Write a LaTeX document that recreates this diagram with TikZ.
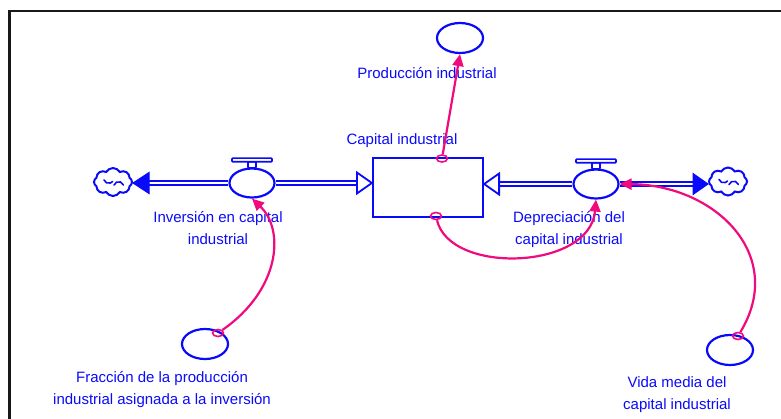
\documentclass[tikz,border=0pt]{standalone}
\usepackage{fontspec}
\setmainfont{Liberation Sans}
\usetikzlibrary{shapes.geometric,shapes.symbols,arrows.meta,calc}
\definecolor{flowblue}{RGB}{10,10,250}
\definecolor{linkpink}{RGB}{240,10,125}
\definecolor{framegray}{RGB}{25,25,25}
\tikzset{
  flowline/.style={draw=flowblue, line width=1.5pt, double=white, double distance=2.2pt},
  valvebody/.style={ellipse, draw=flowblue, line width=2.2pt, fill=white, minimum width=45pt, minimum height=29pt, inner sep=0pt},
  valvetop/.style={draw=flowblue, line width=1.6pt, fill=white, rounded corners=0.8pt},
  auxvar/.style={ellipse, draw=flowblue, line width=2.2pt, minimum width=46pt, minimum height=30pt, inner sep=0pt},
  stockbox/.style={rectangle, draw=flowblue, line width=2.2pt, minimum width=110pt, minimum height=59pt, inner sep=0pt},
  sinkcloud/.style={cloud, cloud puffs=8, cloud puff arc=120, aspect=1.4, draw=flowblue, line width=2pt, minimum width=38pt, minimum height=28pt, inner sep=0pt},
  curl/.style={draw=flowblue, line width=1.6pt, line cap=round},
  solidtip/.style={draw=flowblue, fill=flowblue, line width=1pt, line join=miter},
  hollowtip/.style={draw=flowblue, fill=white, line width=1.8pt, line join=miter},
  lbl/.style={text=flowblue, font=\fontsize{15}{22}\selectfont, align=center, inner sep=0pt},
  link/.style={draw=linkpink, line width=2.2pt, -{Triangle[length=12pt,width=11pt]}},
  linkstart/.style={ellipse, draw=linkpink, line width=1.6pt, minimum width=11pt, minimum height=7pt, inner sep=0pt},
}
\begin{document}
\begin{tikzpicture}[x=1pt,y=-1pt]
\useasboundingbox (0,0) rectangle (781,418);
\clip (0,0) rectangle (781,418);
% frame
\draw[framegray, line width=2.4pt] (9.5,430) -- (9.5,11) -- (800,11);

% stock
\node[stockbox] (stock) at (428,187.5) {};
\node[lbl] (lstock) at (402,141) {Capital industrial};

% valves
\node[valvebody] (v1) at (252,183) {};
\node[valvebody] (v2) at (596,184) {};
\foreach \v in {v1,v2}{
  \draw[valvetop] ($(\v.north)+(-4,0.5)$) rectangle ($(\v.north)+(4,-5.7)$);
  \draw[valvetop] ($(\v.north)+(-20,-5.7)$) rectangle ($(\v.north)+(20,-9.3)$);
}
\node[lbl] (lv1) at (218,228) {Inversión en capital\\industrial};
\node[lbl] (lv2) at (569,229.5) {Depreciación del\\capital industrial};

% clouds
\node[sinkcloud] (c1) at (113,182) {};
\node[sinkcloud] (c2) at (728,181.5) {};
\foreach \c in {c1,c2}{
  \draw[curl] ($(\c.center)+(-9,-2)$) arc[start angle=200, end angle=320, radius=5pt];
  \draw[curl] ($(\c.center)+(1,3)$) arc[start angle=160, end angle=20, radius=5pt];
}

% pipes
\coordinate (p1) at ($(c1.east)+(16,0)$);
\draw[flowline] (v1.west) -- (v1.west -| p1);
\draw[solidtip] (c1.east |- v1) -- ++(16,-10.5) -- ++(0,21) -- cycle;
\draw[flowline] (v1.east) -- ($(stock.west |- v1)+(-15,0)$);
\draw[hollowtip] (stock.west |- v1) -- ++(-15,-10.5) -- ++(0,21) -- cycle;
\draw[flowline] (v2.west) -- ($(stock.east |- v2)+(15,0)$);
\draw[hollowtip] (stock.east |- v2) -- ++(15,-10.5) -- ++(0,21) -- cycle;
\coordinate (p2) at ($(c2.west)+(-15,0)$);
\draw[flowline] (v2.east) -- (v2.east -| p2);
\draw[solidtip] (c2.west |- v2) -- ++(-15,-10.5) -- ++(0,21) -- cycle;

% auxiliaries
\node[auxvar] (prod) at (460,38) {};
\node[lbl] (lprod) at (427,73) {Producción industrial};
\node[auxvar] (frac) at (205,344) {};
\node[lbl] (lfrac) at (162,390) {Fracción de la producción\\industrial asignada a la inversión};
\node[auxvar] (vida) at (730,350) {};
\node[lbl] (lvida) at (677,395) {Vida media del\\capital industrial};

% connector starts
\node[linkstart] (s1) at (442,158.5) {};
\node[linkstart] (s2) at (436,216) {};
\node[linkstart] (s3) at (738,336) {};
\node[linkstart] (s4) at (218,333) {};

% connectors
\draw[link] (s1) -- (prod.south);
\draw[link] (s2) .. controls (450,275) and (590,270) .. (v2.south);
\draw[link] (s3) .. controls (787,255) and (715,185) .. (v2.east);
\draw[link] (s4) .. controls (280,290) and (285,230) .. (v1.south);
\end{tikzpicture}
\end{document}
